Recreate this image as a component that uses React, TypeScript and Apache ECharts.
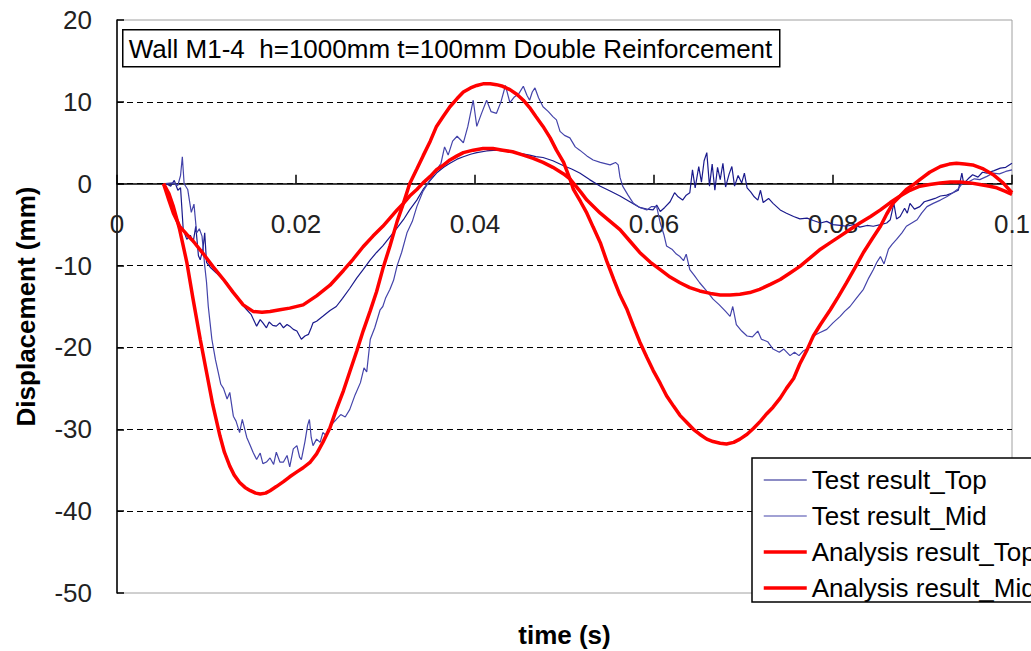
import React, { useEffect, useRef } from "react";
import * as echarts from "echarts";

// time (s), displacement (mm)
const testTop: [number, number][] = [
  [0.0055, 0], [0.006, -0.3], [0.0064, 0.4], [0.0068, -0.8], [0.0071, -0.5], [0.0074, -5.6],
  [0.0078, -6.8], [0.0082, -6.3], [0.0085, -7.2], [0.0088, -5.2], [0.0091, -8.8], [0.0093, -9.3],
  [0.0096, -8.0], [0.0098, -6.0], [0.01, -9.6], [0.0105, -10.3], [0.0111, -10.9], [0.0117, -11.6],
  [0.0123, -12.1], [0.0128, -13.2], [0.0134, -13.7], [0.014, -14.8], [0.0145, -15.4], [0.015, -16.0],
  [0.0156, -17.4], [0.016, -16.6], [0.0163, -17.0], [0.0167, -17.6], [0.017, -16.9], [0.0174, -17.3],
  [0.0178, -17.4], [0.0182, -17.0], [0.0186, -17.6], [0.019, -17.2], [0.0193, -17.4], [0.0197, -17.8],
  [0.0201, -18.0], [0.0204, -18.6], [0.0206, -19.0], [0.021, -18.6], [0.0214, -18.4], [0.0217, -17.6],
  [0.0219, -17.0], [0.0223, -16.8], [0.023, -16.2], [0.0238, -15.5], [0.0245, -15.0], [0.0252, -14.0],
  [0.026, -12.8], [0.0268, -11.5], [0.0275, -10.5], [0.0283, -9.3], [0.029, -8.4], [0.0297, -7.6],
  [0.0305, -6.5], [0.0313, -5.4], [0.032, -4.4], [0.0327, -3.2], [0.0335, -2.0], [0.0342, -0.7],
  [0.035, 0.4], [0.0357, 1.3], [0.0365, 2.0], [0.0372, 2.5], [0.038, 3.0], [0.0387, 3.3],
  [0.0395, 3.6], [0.0402, 3.8], [0.0413, 4.0], [0.0424, 4.1], [0.0431, 4.0], [0.0439, 3.9],
  [0.045, 3.7], [0.0461, 3.5], [0.0468, 3.3], [0.0476, 3.2], [0.0487, 2.8], [0.0499, 2.2],
  [0.0508, 1.8], [0.0517, 1.3], [0.0528, 0.5], [0.054, -0.3], [0.0551, -0.9], [0.0562, -1.5],
  [0.0573, -2.2], [0.0584, -2.9], [0.0592, -3.1], [0.0599, -3.2], [0.0603, -2.6], [0.0607, -3.4],
  [0.0612, -2.9], [0.0618, -2.2], [0.0623, -1.1], [0.0627, -1.6], [0.0632, -2.0], [0.0636, -1.4],
  [0.064, -1.1], [0.0643, 1.7], [0.0646, -0.5], [0.065, 2.1], [0.0653, 0.2], [0.0656, 2.8],
  [0.0659, 3.8], [0.0662, -0.3], [0.0665, 2.4], [0.0668, -0.8], [0.0671, 2.0], [0.0674, 0.5],
  [0.0677, 2.5], [0.068, -0.4], [0.0684, 1.2], [0.0687, 2.1], [0.069, -0.3], [0.0694, 1.0],
  [0.0698, 0.1], [0.0701, 1.3], [0.0704, -0.5], [0.0708, -1.0], [0.0712, -1.6], [0.0716, -2.0],
  [0.0719, -0.8], [0.0722, -2.3], [0.0728, -1.8], [0.0733, -2.4], [0.0741, -3.2], [0.0748, -3.6],
  [0.0756, -4.0], [0.0763, -4.3], [0.0771, -4.2], [0.0778, -4.5], [0.0786, -4.8], [0.0793, -4.6],
  [0.08, -5.0], [0.0808, -5.1], [0.0815, -5.2], [0.0823, -5.0], [0.083, -5.3], [0.0838, -5.1],
  [0.0845, -5.2], [0.0853, -5.0], [0.086, -4.8], [0.0864, -4.4], [0.0868, -2.4], [0.0871, -4.3],
  [0.0875, -4.0], [0.088, -3.0], [0.0883, -3.6], [0.0886, -2.4], [0.0891, -3.1], [0.0897, -2.8],
  [0.0902, -2.2], [0.0908, -2.0], [0.0914, -1.8], [0.092, -1.5], [0.0927, -1.4], [0.0934, -1.1],
  [0.094, -0.8], [0.0944, 1.3], [0.0946, 0.0], [0.0951, 0.6], [0.0956, 1.1], [0.0962, 0.8],
  [0.0967, 1.4], [0.0972, 1.3], [0.098, 1.6], [0.0987, 1.9], [0.0993, 2.0], [0.1, 2.5],
];

const testMid: [number, number][] = [
  [0.0054, 0], [0.0062, 0.1], [0.0068, -0.2], [0.0071, 1.0], [0.0073, 3.3], [0.0075, 0.0],
  [0.0079, -0.7], [0.0083, -3.5], [0.0086, -2.5], [0.0089, -6.0], [0.0092, -5.5], [0.0095, -6.4],
  [0.0098, -10.0], [0.01, -12.0], [0.0102, -15.0], [0.0104, -17.0], [0.0106, -19.0], [0.011, -21.5],
  [0.0113, -23.0], [0.0116, -24.5], [0.0119, -25.0], [0.0123, -26.3], [0.0126, -25.5], [0.013, -28.4],
  [0.0133, -29.0], [0.0137, -30.4], [0.014, -28.8], [0.0145, -31.0], [0.0149, -32.0], [0.0152, -32.8],
  [0.0156, -33.7], [0.016, -32.9], [0.0163, -34.2], [0.0167, -34.0], [0.0171, -33.5], [0.0175, -34.3],
  [0.0178, -32.8], [0.0182, -34.0], [0.0186, -34.0], [0.019, -33.2], [0.0193, -34.6], [0.0197, -32.4],
  [0.0201, -32.0], [0.0204, -33.4], [0.0206, -33.7], [0.021, -31.5], [0.0213, -29.5], [0.0215, -28.8],
  [0.0217, -31.0], [0.0219, -32.0], [0.0223, -31.2], [0.0227, -31.6], [0.023, -30.4], [0.0234, -30.8],
  [0.0238, -29.6], [0.0245, -28.8], [0.025, -28.2], [0.0255, -28.5], [0.026, -27.6], [0.0266, -25.8],
  [0.0272, -24.3], [0.0276, -22.5], [0.0279, -23.0], [0.0283, -19.0], [0.0288, -17.6], [0.0294, -15.4],
  [0.0297, -15.0], [0.03, -14.0], [0.0305, -12.9], [0.0309, -11.8], [0.0313, -10.0], [0.0318, -8.4],
  [0.0324, -6.0], [0.033, -4.6], [0.0335, -2.8], [0.0342, -0.9], [0.035, 0.5], [0.0357, 1.7],
  [0.0362, 2.5], [0.0366, 4.5], [0.037, 3.5], [0.0375, 5.2], [0.038, 5.8], [0.0387, 5.0],
  [0.0392, 7.0], [0.0398, 10.2], [0.0402, 7.0], [0.0407, 8.5], [0.0413, 10.2], [0.0418, 8.8],
  [0.0424, 8.6], [0.0429, 10.0], [0.0434, 12.0], [0.0439, 9.9], [0.0444, 10.6], [0.0449, 11.0],
  [0.0454, 11.9], [0.0458, 10.8], [0.0461, 10.2], [0.0464, 11.2], [0.0467, 11.7], [0.0471, 10.5],
  [0.0476, 9.4], [0.0482, 8.8], [0.0487, 8.2], [0.0491, 7.8], [0.0495, 6.4], [0.05, 5.9],
  [0.0506, 5.6], [0.0512, 4.5], [0.0517, 4.1], [0.0525, 3.4], [0.0532, 2.9], [0.054, 2.6],
  [0.0551, 2.3], [0.0557, 2.6], [0.056, 2.3], [0.0562, 0.8], [0.0565, -0.3], [0.0571, -1.4],
  [0.0577, -2.4], [0.0584, -2.9], [0.0592, -3.2], [0.0597, -2.8], [0.0603, -2.8], [0.0607, -4.8],
  [0.0611, -6.2], [0.0614, -7.6], [0.062, -8.0], [0.0625, -8.6], [0.0629, -8.9], [0.0633, -9.4],
  [0.0636, -8.6], [0.064, -10.5], [0.0645, -11.2], [0.0651, -12.1], [0.0658, -13.0], [0.0666, -14.1],
  [0.0673, -14.8], [0.068, -15.6], [0.0685, -16.2], [0.0688, -15.0], [0.0692, -17.2], [0.0698, -18.0],
  [0.0704, -18.6], [0.071, -18.7], [0.0716, -18.0], [0.072, -19.0], [0.0727, -19.3], [0.0733, -20.2],
  [0.074, -20.6], [0.0745, -20.2], [0.0752, -21.0], [0.0757, -20.6], [0.0762, -21.0], [0.0767, -20.4],
  [0.0771, -20.2], [0.0775, -19.4], [0.0778, -18.6], [0.0785, -18.2], [0.0793, -17.8], [0.08, -17.0],
  [0.0808, -16.2], [0.0813, -15.6], [0.0819, -15.0], [0.0826, -14.0], [0.0834, -12.9], [0.084, -11.5],
  [0.0845, -10.5], [0.0849, -9.6], [0.0853, -8.9], [0.0857, -9.8], [0.0862, -8.0], [0.0866, -7.4],
  [0.0871, -6.8], [0.0877, -6.0], [0.0882, -5.2], [0.0888, -4.8], [0.0894, -4.4], [0.0899, -3.6],
  [0.0905, -2.8], [0.0912, -2.4], [0.092, -2.0], [0.0927, -1.6], [0.0934, -1.1], [0.094, -0.6],
  [0.0945, 0.1], [0.0951, 0.2], [0.0958, 0.6], [0.0964, 0.5], [0.0972, 0.9], [0.0979, 1.3],
  [0.0986, 1.2], [0.0993, 1.5], [0.1, 1.7],
];

const analysisTop: [number, number][] = [
  [0.0052, 0], [0.0058, -2.0], [0.0063, -3.6], [0.007, -5.2], [0.0078, -6.2], [0.0085, -7.0],
  [0.0096, -8.5], [0.0107, -10.1], [0.0119, -11.7], [0.013, -13.3], [0.0141, -14.8], [0.0152, -15.6],
  [0.0162, -15.7], [0.0171, -15.6], [0.0182, -15.4], [0.0193, -15.2], [0.0208, -14.8], [0.0223, -13.7],
  [0.0238, -12.4], [0.0253, -10.6], [0.0264, -9.2], [0.0275, -7.7], [0.0286, -6.4], [0.0297, -5.2],
  [0.0305, -4.2], [0.0313, -3.2], [0.032, -2.4], [0.0327, -1.5], [0.0335, -0.7], [0.0342, 0.1],
  [0.035, 0.9], [0.0357, 1.7], [0.0365, 2.3], [0.0372, 2.9], [0.038, 3.4], [0.0387, 3.8],
  [0.0398, 4.1], [0.0409, 4.3], [0.042, 4.3], [0.0431, 4.1], [0.0442, 3.9], [0.0454, 3.5],
  [0.0465, 3.1], [0.0476, 2.6], [0.0487, 2.0], [0.0499, 1.2], [0.0506, 0.6], [0.0512, -0.2],
  [0.0518, -1.0], [0.0525, -2.0], [0.054, -3.6], [0.0551, -4.6], [0.0562, -5.6], [0.0573, -7.0],
  [0.0584, -8.4], [0.0596, -9.6], [0.0607, -10.5], [0.0618, -11.4], [0.0629, -12.1], [0.064, -12.7],
  [0.0651, -13.1], [0.0663, -13.4], [0.0674, -13.6], [0.0685, -13.6], [0.0696, -13.5], [0.0707, -13.3],
  [0.0718, -12.9], [0.073, -12.3], [0.0741, -11.7], [0.0752, -10.9], [0.0763, -10.1], [0.0774, -9.1],
  [0.0786, -8.0], [0.0797, -7.2], [0.0808, -6.4], [0.0819, -5.6], [0.083, -4.8], [0.0842, -4.0],
  [0.0853, -3.2], [0.0864, -2.3], [0.0875, -1.5], [0.0886, -0.8], [0.0897, -0.3], [0.0908, -0.1],
  [0.092, 0.1], [0.0931, 0.2], [0.0942, 0.2], [0.0953, 0.1], [0.0964, -0.1], [0.0975, -0.3],
  [0.0983, -0.5], [0.0992, -0.9], [0.1, -1.3],
];

const analysisMid: [number, number][] = [
  [0.0052, 0], [0.0058, -1.2], [0.0063, -2.8], [0.007, -5.6], [0.0078, -9.6], [0.0085, -14.1],
  [0.0093, -19.0], [0.01, -23.0], [0.0107, -27.0], [0.0115, -30.8], [0.012, -32.8], [0.0126, -34.5],
  [0.0131, -35.6], [0.0137, -36.5], [0.0143, -37.1], [0.0149, -37.5], [0.0155, -37.8], [0.016, -37.9],
  [0.0166, -37.8], [0.0171, -37.5], [0.0178, -37.0], [0.0186, -36.4], [0.0193, -35.8], [0.0201, -35.2],
  [0.0208, -34.7], [0.0216, -34.0], [0.0223, -33.0], [0.023, -31.6], [0.0238, -29.8], [0.0245, -27.6],
  [0.0253, -25.3], [0.026, -23.0], [0.0268, -20.4], [0.0275, -18.0], [0.0283, -15.5], [0.029, -13.2],
  [0.0297, -10.4], [0.0305, -7.6], [0.0313, -4.6], [0.032, -2.4], [0.0327, 0.0], [0.0335, 1.8],
  [0.0342, 3.4], [0.035, 5.2], [0.0357, 7.0], [0.0365, 8.3], [0.0372, 9.4], [0.038, 10.4],
  [0.0387, 11.2], [0.0395, 11.7], [0.0402, 12.0], [0.0409, 12.2], [0.0417, 12.2], [0.0424, 12.1],
  [0.0431, 11.9], [0.0439, 11.5], [0.0447, 10.9], [0.0454, 10.2], [0.0461, 9.3], [0.0468, 8.2],
  [0.0476, 7.0], [0.0484, 5.6], [0.0491, 4.1], [0.0499, 2.6], [0.0506, 0.6], [0.051, -0.7],
  [0.0518, -2.2], [0.0525, -3.6], [0.0532, -5.3], [0.054, -7.2], [0.0547, -9.4], [0.0555, -11.7],
  [0.0562, -13.6], [0.057, -15.4], [0.0577, -17.4], [0.0584, -19.3], [0.0592, -21.2], [0.0599, -22.8],
  [0.0607, -24.4], [0.0614, -25.9], [0.0622, -27.2], [0.0629, -28.3], [0.0637, -29.2], [0.0644, -30.0],
  [0.0651, -30.6], [0.0659, -31.2], [0.0666, -31.5], [0.0674, -31.7], [0.0681, -31.8], [0.0689, -31.6],
  [0.0696, -31.2], [0.0704, -30.6], [0.0711, -29.9], [0.0719, -29.0], [0.0726, -28.1], [0.0733, -27.3],
  [0.0741, -26.2], [0.0748, -25.0], [0.0756, -23.8], [0.0763, -22.0], [0.0771, -20.3], [0.0778, -18.6],
  [0.0786, -17.2], [0.0797, -15.4], [0.0806, -13.8], [0.0815, -12.1], [0.0825, -10.2], [0.0834, -8.4],
  [0.0844, -6.7], [0.0853, -5.2], [0.086, -3.7], [0.0867, -2.4], [0.0875, -1.5], [0.0882, -0.7],
  [0.089, -0.1], [0.0897, 0.5], [0.0908, 1.4], [0.092, 2.1], [0.093, 2.4], [0.0938, 2.5],
  [0.0947, 2.4], [0.0956, 2.3], [0.0968, 1.8], [0.0979, 1.1], [0.099, 0.1], [0.1, -1.1],
];

const seriesNames = ["Test result_Top", "Test result_Mid", "Analysis result_Top", "Analysis result_Mid"];
const titleText = "Wall M1-4  h=1000mm t=100mm Double Reinforcement";
const FONT = "'Liberation Sans', Arial, sans-serif";

const GRID_TOP = 20;
const GRID_H = 573;
const Y_MIN = -50;
const Y_MAX = 20;

export default function App() {
  const ref = useRef<HTMLDivElement>(null);
  useEffect(() => {
    if (!ref.current) return;
    const chart = echarts.init(ref.current, undefined, { renderer: "svg" });
    const thin = (color: string) => ({ width: 1.2, color });
    const thick = { width: 3.5, color: "#ff0000" };
    // distance from the grid bottom up to the y=0 line
    const zeroOffset = (GRID_H * (0 - Y_MIN)) / (Y_MAX - Y_MIN);
    chart.setOption({
      animation: false,
      backgroundColor: "#ffffff",
      textStyle: { fontFamily: FONT },
      grid: {
        left: 117, top: GRID_TOP, width: 895, height: GRID_H,
        show: true, borderColor: "#a0a0a0", borderWidth: 1,
        outerBoundsMode: "none", containLabel: false,
      },
      xAxis: {
        type: "value", min: 0, max: 0.1, interval: 0.02,
        offset: -zeroOffset,
        name: "time (s)", nameLocation: "middle", nameGap: 438,
        nameTextStyle: { fontSize: 26, fontWeight: "bold", color: "#000", fontFamily: FONT },
        axisLine: { onZero: false, lineStyle: { color: "#000", width: 1.5 } },
        axisTick: { inside: true, length: 9, lineStyle: { color: "#000", width: 1.5 } },
        axisLabel: { margin: 27, fontSize: 26, color: "#222", fontFamily: FONT, showMinLabel: true, showMaxLabel: true },
        splitLine: { show: false },
      },
      yAxis: {
        type: "value", min: Y_MIN, max: Y_MAX, interval: 10,
        name: "Displacement (mm)", nameLocation: "middle", nameGap: 78, nameRotate: 90,
        nameTextStyle: { fontSize: 26, fontWeight: "bold", color: "#000", fontFamily: FONT },
        axisLine: { show: true, onZero: false, lineStyle: { color: "#000", width: 1.5 } },
        axisTick: { show: true, inside: true, length: 7, lineStyle: { color: "#000", width: 1.5 } },
        axisLabel: { margin: 25, fontSize: 26, color: "#222", fontFamily: FONT },
        splitLine: { show: true, showMinLine: false, showMaxLine: false, lineStyle: { color: "#000", type: [6, 4], width: 1 } },
      },
      legend: {
        orient: "vertical", left: 752, top: 458,
        padding: [9, 10, 1, 10], itemGap: 10, itemWidth: 43, itemHeight: 14,
        backgroundColor: "#fff", borderColor: "#000", borderWidth: 1.5, borderRadius: 0,
        itemStyle: { color: "transparent", opacity: 0, borderWidth: 0 },
        lineStyle: { width: "inherit" },
        textStyle: { fontSize: 26, lineHeight: 26, color: "#000", fontFamily: FONT },
        data: seriesNames,
      },
      graphic: [
        {
          type: "group", left: 122, top: 29, z: 10,
          children: [
            { type: "rect", shape: { x: 0, y: 0, width: 657, height: 37 }, style: { fill: "#fff", stroke: "#000", lineWidth: 1.5 } },
            { type: "text", x: 6, y: 19, style: { text: titleText, fontSize: 26, fill: "#000", verticalAlign: "middle", fontFamily: FONT } },
          ],
        },
      ],
      series: [
        { name: seriesNames[0], type: "line", data: testTop, showSymbol: false, symbol: "none", lineStyle: thin("#1a1a8c"), itemStyle: { color: "#1a1a8c" } },
        { name: seriesNames[1], type: "line", data: testMid, showSymbol: false, symbol: "none", lineStyle: thin("#4444aa"), itemStyle: { color: "#4444aa" } },
        { name: seriesNames[2], type: "line", data: analysisTop, showSymbol: false, symbol: "none", lineStyle: thick, itemStyle: { color: "#ff0000" } },
        { name: seriesNames[3], type: "line", data: analysisMid, showSymbol: false, symbol: "none", lineStyle: thick, itemStyle: { color: "#ff0000" } },
      ],
    });
    return () => chart.dispose();
  }, []);
  return <div ref={ref} style={{ position: "fixed", left: 0, top: 0, width: 1031, height: 651 }} />;
}
